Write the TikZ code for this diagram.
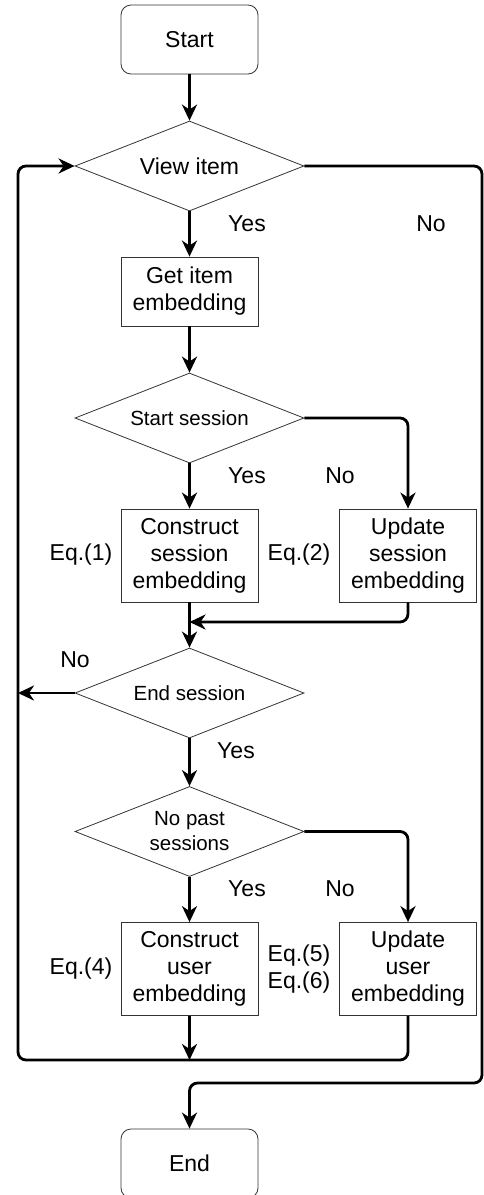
\documentclass[tikz,border=0pt]{standalone}
\usepackage{fontspec}
\setmainfont{Liberation Sans}
\usetikzlibrary{shapes.geometric,arrows.meta}
\begin{document}
\begin{tikzpicture}[x=1pt,y=-1pt,
  term/.style={draw=black!80,line width=0.8pt,rounded corners=10pt,minimum width=137pt,minimum height=69pt,inner sep=0pt,font=\fontsize{23}{27}\selectfont},
  proc/.style={draw=black!80,line width=0.8pt,minimum width=137pt,minimum height=69pt,inner sep=0pt,align=center,font=\fontsize{23}{27}\selectfont},
  dec/.style={draw=black!80,line width=0.8pt,diamond,aspect=2.54,minimum width=229pt,minimum height=90pt,inner sep=0pt,align=center,font=\fontsize{20.5}{25}\selectfont},
  lab/.style={font=\fontsize{23}{27}\selectfont,inner sep=0pt,align=center},
  arr/.style={line width=2.8pt,rounded corners=8pt,-{Stealth[length=16pt,width=15pt,inset=5pt]}},
  conn/.style={line width=2.8pt,rounded corners=8pt}]
\useasboundingbox (0,0) rectangle (484,1195);
% nodes
\node[term] (start) at (189.5,39.5) {Start};
\node[dec,font=\fontsize{23}{27}\selectfont] (view) at (189.5,166) {View item};
\node[proc] (getemb) at (189.5,291.5) {Get item\\embedding};
\node[dec] (startses) at (189.5,418) {Start session};
\node[proc,minimum height=93pt] (conses) at (189.5,555.5) {Construct\\session\\embedding};
\node[proc,minimum height=93pt] (updses) at (408,555.5) {Update\\session\\embedding};
\node[dec] (endses) at (189.5,693) {End session};
\node[dec] (nopast) at (189.5,831.5) {No past\\sessions};
\node[proc,minimum height=93pt] (conuser) at (189.5,969) {Construct\\user\\embedding};
\node[proc,minimum height=93pt] (upduser) at (408,969) {Update\\user\\embedding};
\node[term] (end) at (189.5,1163.5) {End};
% labels
\foreach \n/\x/\y/\t in {y1/247/224/Yes,n1/431/224/No,y2/247/476/Yes,n2/340/476/No,
  n3/75/660/No,y3/236/751/Yes,y4/247/889/Yes,n4/340/889/No,
  e1/81/555/Eq.(1),e2/299/555/Eq.(2),e4/81/969/Eq.(4)}
  \node[lab] (\n) at (\x,\y) {\t};
\node[lab] (e56) at (299,969) {Eq.(5)\\Eq.(6)};
% helper points
\coordinate (join1) at (189.5,622);
\coordinate (leftno) at (18,693);
\coordinate (join2) at (189.5,1060);
\coordinate (loopbl) at (18,1060);
\coordinate (rightbl) at (482,1083);
% connectors
\draw[arr] (start) -- (view);
\draw[arr] (view) -- (getemb);
\draw[arr] (getemb) -- (startses);
\draw[arr] (startses) -- (conses);
\draw[arr] (startses.east) -| (updses);
\draw[arr] (conses) -- (endses);
\draw[arr] (updses.south) |- (join1);
\draw[arr] (endses.west) -- (leftno);
\draw[arr] (endses) -- (nopast);
\draw[arr] (nopast) -- (conuser);
\draw[arr] (nopast.east) -| (upduser);
\draw[arr] (conuser) -- (join2);
\draw[arr] (upduser.south) |- (loopbl) |- (view.west);
\draw[arr] (view.east) -| (rightbl) -| (end.north);
\end{tikzpicture}
\end{document}
